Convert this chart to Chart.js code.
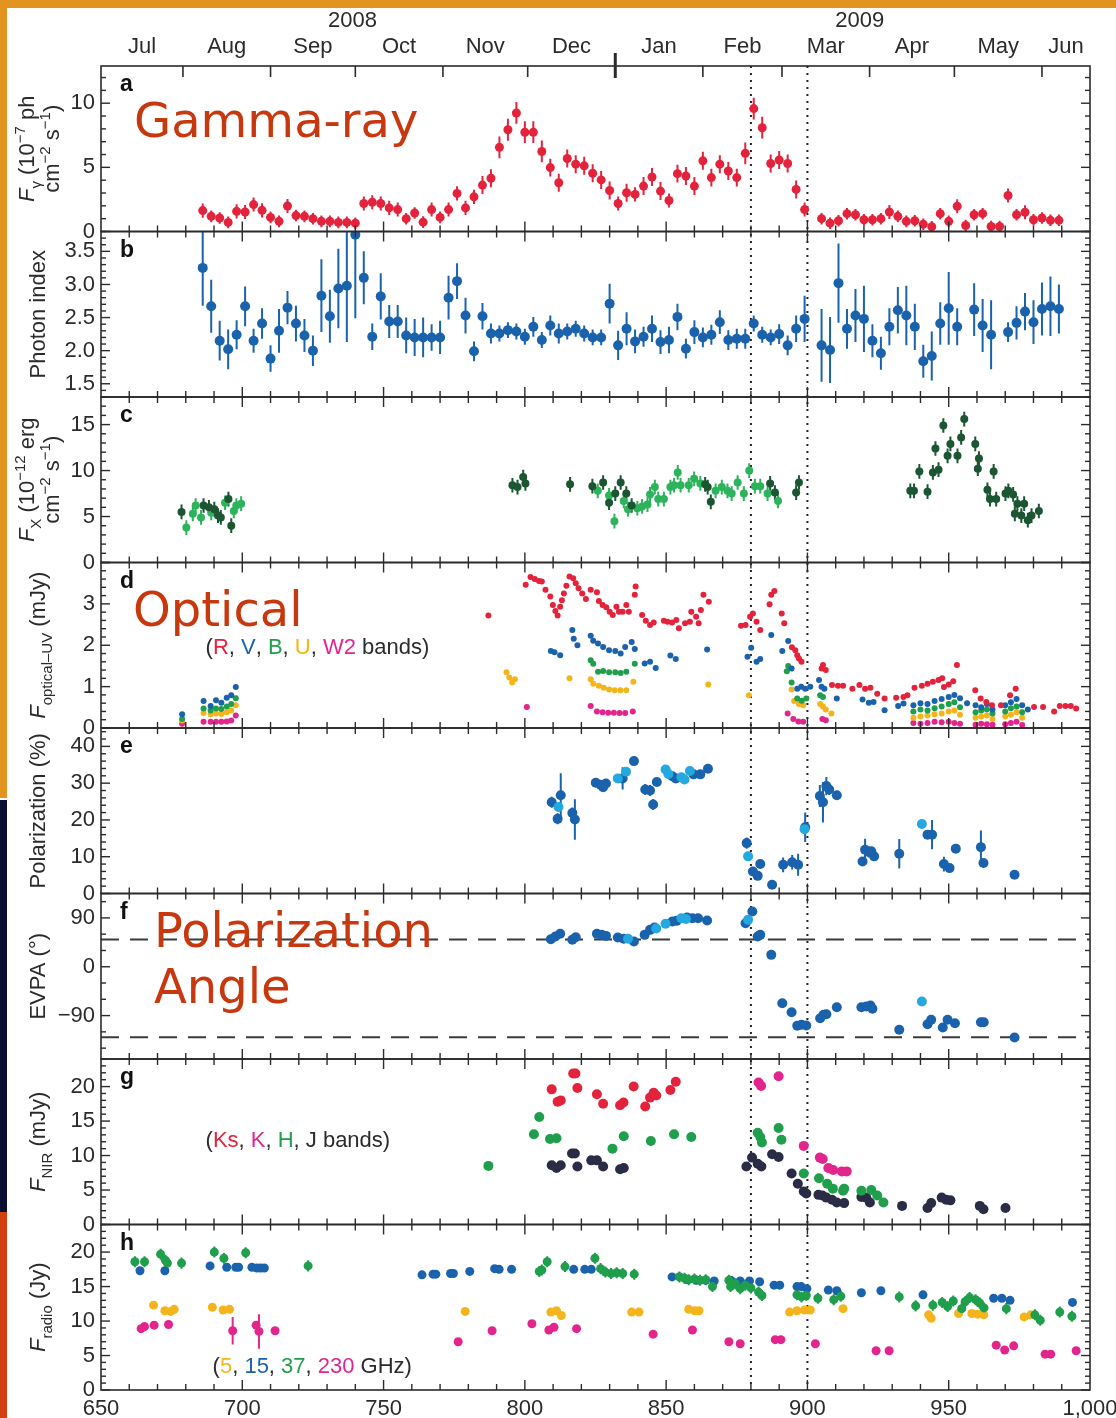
<!DOCTYPE html>
<html>
<head>
<meta charset="utf-8">
<title>3C 279 multiwavelength light curves</title>
<script src="https://cdn.jsdelivr.net/npm/chart.js@4.4.1/dist/chart.umd.min.js"></script>
<style>
  html, body { margin: 0; padding: 0; background: #fff; }
  #wrap { position: relative; width: 1116px; height: 1418px; overflow: hidden; background: #fff; }
  .band { position: absolute; }
  #lc { position: absolute; left: 0; top: 0; }
</style>
</head>
<body>
<div id="wrap">
  <div class="band" style="left:0;top:0;width:1116px;height:8px;background:#e3931f"></div>
  <div class="band" style="left:0;top:0;width:7px;height:798px;background:#e3931f"></div>
  <div class="band" style="left:0;top:800px;width:7px;height:412px;background:#0c0d33"></div>
  <div class="band" style="left:0;top:1212px;width:7px;height:206px;background:#d3400f"></div>
  <canvas id="lc" width="1116" height="1418"></canvas>
</div>
<script>
// ---- calendar axis (days are MJD - 54000) ----
const monthStarts = [679, 710, 740, 771, 801, 832, 863, 891, 922, 952, 983];
const monthNames = ['Jul', 'Aug', 'Sep', 'Oct', 'Nov', 'Dec', 'Jan', 'Feb', 'Mar', 'Apr', 'May', 'Jun'];
const yearNames = ['2008', '2009'];
const yearDays = [739, 918.5];
const newYearDay = 832;
const dayTicks = [650, 700, 750, 800, 850, 900, 950, 1000];
const flareDays = [880, 900];
const evpaRef = [50, -130];

// ---- a: gamma-ray flux (1e-7 ph cm-2 s-1), 3-day bins ----
const gammaX = [686,689,692,695,698,701,704,707,710,713,716,719,722,725,728,731,734,737,740,743,746,749,752,755,758,761,764,767,770,773,776,779,782,785,788,791,794,797,800,803,806,809,812,815,818,821,824,827,830,833,836,839,842,845,848,851,854,857,860,863,866,869,872,875,878,881,884,887,890,893,896,899,905,908,911,914,917,920,923,926,929,932,935,938,941,944,947,950,953,956,959,962,965,968,971,974,977,980,983,986,989];
const gammaY = [1.63,1.18,1.05,0.71,1.57,1.52,2.10,1.65,1.10,0.79, 1.99,1.24,1.18,1.00,0.79,0.79,0.71,0.71,0.65,2.18, 2.28,2.18,1.84,1.71,1.00,1.44,0.73,1.71,1.10,1.71, 2.97,1.84,2.70,3.62,4.15,6.56,7.93,9.24,7.74,7.74, 6.24,4.98,3.80,5.69,5.25,5.12,4.54,4.02,3.20,2.18, 3.02,2.89,3.54,4.25,3.15,2.42,4.51,4.33,3.54,5.51, 4.20,5.25,4.72,4.20,6.09,9.58,8.09,5.30,5.57,5.30, 3.28,1.71, 1.00,0.65,0.84,1.39,1.31,0.92,0.92,1.00,1.52,1.18, 0.79,0.84,0.57,0.37,1.39,0.79,1.97,0.47,1.31,1.39, 0.39,0.39,2.81,1.31,1.50,0.92,1.05,0.87,0.87];
const gammaErr = [0.55,0.45,0.45,0.45,0.55,0.55,0.55,0.55,0.45,0.45, 0.55,0.45,0.45,0.45,0.45,0.45,0.45,0.45,0.45,0.55, 0.55,0.55,0.55,0.55,0.45,0.45,0.45,0.55,0.45,0.55, 0.55,0.55,0.55,0.7,0.7,0.85,0.85,0.85,0.85,0.85, 0.85,0.7,0.7,0.7,0.7,0.7,0.7,0.7,0.7,0.55, 0.7,0.55,0.7,0.7,0.7,0.55,0.7,0.7,0.7,0.7, 0.7,0.7,0.7,0.7,0.85,0.85,0.85,0.7,0.7,0.7, 0.7,0.55, 0.45,0.45,0.45,0.45,0.45,0.45,0.45,0.45,0.55,0.45, 0.45,0.45,0.45,0.45,0.45,0.45,0.55,0.45,0.45,0.45, 0.45,0.45,0.55,0.45,0.55,0.45,0.45,0.45,0.45];

// ---- b: gamma-ray photon index ----
const photonX = [686,689,692,695,698,701,704,707,710,713,716,719,722,725,728,731,734,737,740,743,746,749,752,755,758,761,764,767,770,773,776,779,782,785,788,791,794,797,800,803,806,809,812,815,818,821,824,827,830,833,836,839,842,845,848,851,854,857,860,863,866,869,872,875,878,881,884,887,890,893,896,899,905,908,911,914,917,920,923,926,929,932,935,938,941,944,947,950,953,959,962,965,971,974,977,980,983,986,989];
const photonY = [3.25,2.67,2.15,2.02,2.24,2.67,2.15,2.41,1.88,2.30, 2.65,2.41,2.23,2.00,2.83,2.52,2.94,2.98,3.75,3.10, 2.21,2.82,2.44,2.44,2.23,2.20,2.20,2.20,2.20,2.80, 3.05,2.53,1.99,2.52,2.26,2.26,2.31,2.29,2.21,2.36, 2.16,2.38,2.26,2.29,2.33,2.26,2.20,2.20,2.71,2.08, 2.33,2.14,2.21,2.33,2.13,2.16,2.51,2.03,2.28,2.20, 2.24,2.43,2.16,2.18,2.18,2.41,2.24,2.20,2.25,2.08, 2.33,2.48, 2.08,2.01,3.02,2.33,2.53,2.48,2.15,1.96,2.36,2.61, 2.53,2.36,1.84,1.92,2.41,2.64,2.36,2.62,2.38,2.24, 2.28,2.42,2.59,2.43,2.63,2.67,2.63];
const photonErr = [0.57,0.40,0.30,0.30,0.22,0.30,0.18,0.23,0.20,0.33, 0.25,0.27,0.25,0.23,0.55,0.40,0.60,0.85,1.26,0.40, 0.20,0.35,0.25,0.25,0.27,0.28,0.30,0.20,0.25,0.33, 0.27,0.27,0.15,0.20,0.15,0.12,0.12,0.12,0.12,0.15, 0.12,0.15,0.15,0.12,0.12,0.12,0.12,0.12,0.30,0.22, 0.25,0.18,0.15,0.20,0.18,0.20,0.20,0.15,0.18,0.15, 0.15,0.18,0.15,0.15,0.15,0.12,0.12,0.12,0.15,0.15, 0.20,0.35, 0.55,0.50,0.60,0.30,0.40,0.50,0.25,0.25,0.28,0.35, 0.45,0.35,0.25,0.37,0.32,0.55,0.28,0.40,0.40,0.52, 0.15,0.25,0.28,0.33,0.40,0.45,0.37];

// ---- c: X-ray flux (1e-12 erg cm-2 s-1), two instruments ----
const xrayDarkX = [678.5,686.3,688.2,690.1,691.4,692.4,695.1,696.1,795.6,797.4,799.4,800.2,816.0,823.9,827.7,829.8,832.0,833.9,835.9,837.8,863.8,864.7,865.8,886.8,888.5,896.0,897.0,936.4,937.7,939.6,942.5,944.4,945.3,946.4,948.1,949.6,950.6,953.1,954.4,955.5,959.4,960.3,960.7,963.7,964.6,965.9,966.8,970.1,971.1,972.8,973.4,974.3,975.7,976.7,978.0,979.3,981.9];
const xrayDarkY = [5.5,6.2,6.0,5.8,5.1,4.9,6.9,4.0,8.4,8.2,9.3,8.6,8.5,8.3,8.7,6.5,7.5,8.7,7.5,6.2,8.5,8.2,6.6,8.6,7.6,7.6,8.7,7.8,7.8,9.9,7.7,9.8,12.4,10.1,14.9,11.6,12.9,11.6,13.6,15.6,12.9,10.2,11.3,7.9,6.9,9.9,6.9,7.5,7.8,7.4,5.3,6.4,5.1,6.4,4.6,5.1,5.6];
const xrayLightX = [680.2,682.5,683.5,685.4,689.0,693.9,697.0,697.9,699.6,825.8,829.8,831.7,835.0,836.5,839.8,841.5,843.4,844.3,846.0,847.2,849.2,851.5,852.8,854.1,855.1,858.0,859.9,862.1,867.5,869.7,871.7,873.2,875.3,877.5,879.4,881.4,883.3,885.9,889.6];
const xrayLightY = [3.8,5.3,6.2,4.9,5.4,6.5,5.6,6.2,6.4,7.8,7.3,4.5,6.7,5.8,5.9,6.1,6.3,7.4,8.2,6.9,6.9,8.2,8.4,9.8,8.4,8.4,9.1,8.6,7.8,8.2,7.8,7.5,8.7,7.5,10.0,8.3,8.3,7.5,6.7];
const xrayErr = 0.8;

// ---- d: optical-UV flux density (mJy) ----
const optRX = [787.1,800.3,802.0,803.5,805.0,806.0,807.3,809.0,809.9,810.8,811.6,812.5,813.1,813.8,814.7,815.8,817.1,818.0,819.0,820.3,821.6,823.3,825.5,826.2,827.5,828.8,830.0,831.1,832.4,833.3,834.6,835.9,836.8,838.9,839.2,841.5,842.8,844.3,845.6,849.2,850.5,852.1,853.6,854.5,856.7,858.4,858.9,860.6,861.5,862.3,863.2,865.1,876.5,878.1,879.7,880.7,882.0,883.3,886.6,887.2,888.3,890.9,891.8,894.5,895.7,896.4,897.0,897.9,905.0,905.5,906.5,908.7,910.8,912.6,915.9,918.4,920.4,922.3,924.7,927.3,931.4,934.0,935.4,937.9,940.5,942.5,944.4,946.4,947.7,948.3,950.0,951.6,952.9,959.4,961.3,963.3,965.3,968.5,971.7,973.7,980.2,983.4,987.3,989.3,991.3,993.2,995.1];
const optRY = [2.72,3.46,3.65,3.60,3.55,3.54,3.34,3.18,2.97,2.83, 2.72,2.93,3.09,3.25,3.44,3.66,3.62,3.50,3.38,3.25, 3.12,3.34,3.28,3.07,2.97,2.92,2.81,2.73,2.93,2.81, 2.81,2.97,2.81,3.22,3.42,2.73,2.59,2.49,2.55,2.59, 2.57,2.55,2.61,2.41,2.53,2.57,2.81,2.69,2.53,2.85, 3.22,3.05,2.47,2.49,2.69,2.77,2.57,2.37,2.99,3.22, 3.31,2.77,2.53,1.95,1.88,1.76,1.68,1.60,1.44,1.52, 1.40,1.04,1.02,1.02,0.95,1.04,0.95,0.97,0.83,0.71, 0.73,0.75,0.79,0.97,1.02,1.07,1.12,1.16,1.20,0.99, 1.05,1.13,1.52,0.91,0.71,0.63,0.55,0.55,0.79,0.95, 0.51,0.51,0.40,0.53,0.53,0.53,0.47];
const optVX = [678.7,686.3,688.8,690.7,692.6,694.5,696.1,697.7,809.2,810.5,812.5,816.8,817.3,818.6,823.3,824.2,825.9,827.7,829.8,832.0,833.9,835.5,837.8,838.9,842.4,844.3,846.3,851.5,853.4,864.5,878.8,880.1,882.0,883.3,887.2,891.1,893.2,894.4,896.4,897.8,899.2,901.0,904.1,905.0,906.0,910.4,919.5,921.7,923.4,927.3,932.1,934.0,937.5,940.0,942.5,945.0,947.5,950.0,952.0,954.0,956.5,959.5,961.5,963.5,965.5,970.0,972.0,974.0,976.0,978.0];
const optVY = [0.33,0.65,0.53,0.67,0.61,0.73,0.79,0.99,1.86,1.83, 1.76,2.37,2.16,2.00,2.23,2.11,2.04,1.96,1.88,1.86, 1.80,1.96,2.08,1.91,1.56,1.60,1.45,1.75,1.67,1.90, 1.72,1.94,1.60,1.67,2.25,1.86,2.10,1.44,0.95,1.00, 0.95,1.00,1.16,1.00,0.95,0.71,0.69,0.61,0.63,0.43, 0.53,0.59,0.55,0.60,0.58,0.65,0.70,0.75,0.80,0.72, 0.60,0.55,0.50,0.58,0.45,0.55,0.62,0.70,0.55,0.45];
const optBX = [678.7,686.3,688.8,690.7,692.6,694.5,696.1,697.7,823.3,824.2,825.9,827.7,829.8,832.0,833.9,835.9,838.9,892.7,893.2,894.4,896.4,898.0,899.6,904.5,905.5,937.5,940.0,942.5,945.0,947.5,950.0,952.0,954.0,959.5,961.5,963.5,965.5,970.0,972.0,974.0,976.0];
const optBY = [0.22,0.47,0.42,0.47,0.46,0.52,0.58,0.72,1.64,1.55,1.36,1.38,1.35,1.35,1.33,1.36,1.55,1.37,1.50,1.10,0.71,0.66,0.71,0.79,0.75,0.40,0.45,0.42,0.48,0.52,0.58,0.62,0.50,0.38,0.42,0.45,0.35,0.40,0.48,0.52,0.38];
const optUX = [678.7,686.3,688.8,690.7,692.6,694.5,696.1,697.7,793.5,794.5,795.5,796.5,815.8,823.3,824.2,826.2,827.9,829.8,831.8,833.8,835.9,838.4,864.9,879.3,894.4,895.3,897.0,898.5,904.5,905.5,906.5,908.5,937.5,940.0,942.5,945.0,947.5,950.0,952.0,954.0,959.5,961.5,963.5,965.5,970.0,972.0,974.0,976.0];
const optUY = [0.18,0.36,0.33,0.35,0.34,0.38,0.42,0.55,1.35,1.22,1.10,1.18,1.20,1.18,1.07,1.02,0.97,0.93,0.91,0.91,0.91,1.12,1.05,0.79,0.93,0.65,0.58,0.55,0.58,0.52,0.45,0.35,0.25,0.28,0.30,0.33,0.35,0.40,0.42,0.32,0.25,0.28,0.30,0.22,0.28,0.32,0.38,0.25];
const optW2X = [678.7,686.3,688.8,690.7,692.6,694.5,696.1,697.7,800.7,823.3,825.5,827.5,829.5,831.5,833.5,835.5,838.2,893.0,895.0,896.8,898.5,905.3,906.5,937.5,940.0,942.5,945.0,947.5,950.0,952.0,954.0,959.5,961.5,963.5,965.5,970.0,972.0,974.0,976.0];
const optW2Y = [0.10,0.15,0.15,0.15,0.15,0.16,0.18,0.30,0.51,0.53,0.40,0.38,0.37,0.37,0.36,0.36,0.40,0.35,0.22,0.16,0.15,0.22,0.19,0.12,0.10,0.12,0.15,0.14,0.15,0.12,0.10,0.08,0.10,0.09,0.08,0.09,0.12,0.15,0.07];

// ---- e: optical polarization degree (%) ----
const polDarkX = [809.5,811.6,812.7,816.8,817.7,825.1,826.8,827.7,828.7,834.6,838.6,842.6,844.3,845.4,846.7,852.2,853.4,859.7,862.1,864.8,878.5,880.7,882.4,883.3,887.5,891.4,894.6,896.7,899.2,904.4,905.5,906.7,907.7,910.4,919.5,920.4,921.7,922.6,923.6,932.5,942.5,944.1,948.3,950.3,952.5,961.4,962.3,973.3];
const polDarkY = [24.8,20.3,26.7,21.9,20.1,30.1,29.6,28.9,29.9,31.3,36.0,28.3,28.0,24.2,30.3,31.9,31.3,32.4,32.4,33.9,13.7,6.0,4.8,8.0,2.4,7.8,8.5,7.8,18.0,26.5,24.8,29.2,28.3,26.7,8.7,11.9,11.3,11.5,10.1,10.8,16.0,16.0,8.0,6.9,12.2,12.6,8.3,5.1];
const polDarkErr = [1.5,1.5,6.0,1.5,5.5,1.0,1.0,1.0,1.0,3.0, 1.0,1.5,1.5,1.5,1.0,1.0,1.0,1.0,1.0,1.0, 1.5,1.0,1.0,1.0,1.0,2.0,2.0,3.0,4.0,3.0, 5.5,2.5,1.5,1.0,1.0,3.0,1.5,1.0,1.0,4.0, 1.0,4.0,2.0,1.0,1.0,4.5,1.0,1.0];
const polLightX = [811.9,832.9,835.8,849.8,850.8,855.4,856.5,858.4,879.0,899.0,940.5];
const polLightY = [23.5,31.3,33.1,33.7,32.5,31.6,31.0,33.3,10.1,17.5,18.9];

// ---- f: polarization angle (deg) ----
const evpaDarkX = [809.2,810.8,812.5,816.8,818.0,825.5,827.2,828.7,832.9,835.0,838.6,842.4,844.3,845.9,852.2,853.7,857.4,859.3,861.3,864.5,878.1,880.5,882.4,883.3,887.2,891.1,894.4,896.4,897.9,899.6,904.5,905.7,906.7,910.4,919.1,920.8,922.3,923.0,932.5,942.5,943.8,947.9,949.6,952.2,961.4,962.4,973.3];
const evpaDarkY = [50.8,55.7,60.7,49.7,54.5,60.7,58.8,56.9,53.9,51.5,46.5,58.8,68.0,72.3,83.4,84.6,90.8,89.5,89.5,85.2,80.3,101.8,55.7,58.8,21.9,-67.2,-83.9,-108.8,-107.0,-108.3,-94.8,-88.6,-87.4,-74.5,-74.5,-73.2,-71.4,-77.5,-116.2,-105.9,-97.8,-112.0,-97.8,-104.0,-102.2,-102.2,-130.4];
const evpaLightX = [836.5,846.5,849.8,855.4,857.0,879.0,940.5];
const evpaLightY = [51.5,70.5,79.1,89.5,88.0,86.4,-64.0];
const evpaErr = 4;

// ---- g: near-infrared flux density (mJy) ----
const nirKsX = [809.5,811.6,812.7,817.1,817.9,818.6,825.5,827.7,833.7,834.9,838.5,842.6,844.3,845.6,846.5,851.5,853.4];
const nirKsY = [19.6,17.8,18.0,21.9,21.9,19.8,18.9,17.5,17.3,17.7,20.0,17.1,18.4,19.1,18.7,19.5,20.7];
const nirKX = [882.7,883.6,889.8,898.7,904.4,905.4,907.4,909.1,912.2,913.9];
const nirKY = [20.6,20.1,21.5,11.4,9.7,9.5,8.2,7.9,7.7,7.7];
const nirHX = [787.1,803.2,805.1,808.9,811.2,831.0,835.0,844.6,852.8,858.9,882.4,883.3,883.9,889.8,890.8,898.7,904.1,907.0,909.0,912.6,913.0,919.1,922.6,924.7,926.9];
const nirHY = [8.5,13.1,15.6,12.4,12.5,11.0,12.8,12.1,13.1,12.7,13.3,12.7,11.9,14.0,12.3,7.4,6.7,5.9,5.2,4.9,5.2,4.9,5.0,4.2,3.2];
const nirJX = [809.5,811.2,812.7,816.7,817.7,818.6,823.5,825.5,827.7,833.7,835.0,878.4,880.4,882.4,883.7,887.5,889.8,894.4,896.6,898.7,899.6,903.9,905.3,906.7,908.7,910.4,913.0,919.1,920.8,922.1,933.5,942.5,943.8,947.5,949.1,950.6,961.0,962.3,970.1];
const nirJY = [8.6,8.2,8.6,10.3,10.3,8.4,9.3,9.3,8.4,8.0,8.2,8.4,9.7,8.8,8.4,10.2,9.8,7.4,5.9,4.8,4.5,4.3,4.2,3.9,3.6,3.2,3.1,4.0,3.9,3.2,2.7,2.4,3.1,3.9,3.6,3.5,2.7,2.2,2.4];

// ---- h: radio flux density (Jy) ----
const radio5X = [668.6,672.6,674.7,675.9,689.4,693.2,695.5,778.9,809.2,811.2,812.9,837.8,840.4,858.0,860.1,861.6,893.7,896.3,899.0,901.0,912.6,942.9,943.8,953.5,958.2,960.3,962.4,976.7,979.0];
const radio5Y = [12.3,11.5,11.4,11.7,12.0,11.6,11.7,11.4,11.3,11.5,10.8,11.3,11.3,11.7,11.5,11.5,11.3,11.5,11.6,11.6,11.8,10.9,10.4,11.1,11.1,11.0,10.9,10.6,10.9];
const radio15X = [663.8,672.6,688.6,694.5,697.7,698.7,703.4,705.2,706.5,707.8,763.6,767.5,768.5,773.7,774.7,780.5,789.3,790.9,795.3,817.3,821.2,823.5,852.1,854.7,857.4,860.8,864.0,867.0,872.9,876.2,879.5,883.1,888.2,890.2,896.3,897.8,899.8,907.4,910.4,919.1,926.0,940.9,965.9,968.8,971.7,993.8];
const radio15Y = [17.3,17.3,18.0,17.8,17.8,17.8,17.8,17.7,17.7,17.7,16.7,16.8,16.8,16.9,16.9,17.2,17.6,17.5,17.5,17.5,17.5,17.5,16.4,16.4,16.0,15.9,15.9,15.8,15.9,15.8,15.8,15.7,15.2,15.2,15.0,15.0,14.7,14.5,14.4,14.1,14.4,13.8,13.3,13.3,13.0,12.7];
const radio37X = [662.0,665.4,671.1,672.8,673.5,678.5,690.1,693.5,701.2,723.3,805.1,806.0,807.9,814.2,824.8,826.8,828.5,830.5,832.5,834.6,838.7,854.7,856.5,858.0,860.0,862.0,864.0,866.4,872.2,872.8,874.5,876.2,878.0,880.0,882.7,883.9,896.3,897.9,899.6,903.7,909.3,911.8,932.5,938.3,944.4,947.7,949.6,951.6,954.6,955.8,957.4,959.5,961.0,962.5,970.4,980.5,982.4,989.3,993.6];
const radio37Y = [18.6,18.6,19.7,18.8,18.4,18.4,20.0,19.1,19.9,18.0,17.2,17.4,18.6,17.9,19.1,17.6,17.1,16.9,17.0,16.9,16.8,16.4,16.2,16.0,16.1,15.9,16.0,15.0,15.9,15.0,15.4,14.7,15.2,14.8,14.2,13.7,13.8,13.5,13.7,13.3,13.1,13.6,13.5,12.2,12.3,12.7,12.1,12.9,11.8,12.8,13.4,13.1,12.6,11.9,11.8,10.9,10.1,11.3,10.7];
const radio37Err = 0.8;
const radio230X = [664.2,665.4,668.8,673.9,696.6,704.9,705.9,711.6,776.4,788.4,802.5,808.5,810.3,818.3,845.4,859.3,872.2,876.2,888.6,890.6,902.8,924.3,928.9,966.8,969.8,973.0,984.1,986.1,995.1];
const radio230Y = [8.9,9.2,9.4,9.5,8.6,9.4,8.5,8.6,7.0,8.6,9.6,8.7,9.1,8.9,8.1,8.7,7.0,6.7,7.3,7.3,6.7,5.7,5.7,6.5,5.8,6.4,5.2,5.2,5.7];
const radio230Err = [0.4,0.4,0.4,0.4,2.0,0.4,2.5,0.4,0.4,0.4,0.4,0.4,0.4,0.4,0.4,0.4,0.4,0.4,0.4,0.4,0.4,0.4,0.4,0.4,0.4,0.4,0.4,0.4,0.4];

// ---- styling ----
const ink = '#2b2b2b';
const sans = '"Liberation Sans", Arial, Helvetica, sans-serif';
const noteFont = '"DejaVu Sans", Verdana, sans-serif';
const noteColor = '#c8380e';
const C = {
  red: '#e3233b', blue: '#1b62ad', sky: '#25a7e0', green: '#1f9e4b', dkgreen: '#1b5532',
  ltgreen: '#2cb35b', gold: '#f3b51b', pink: '#e2258d', navy: '#2a2c45'
};

const panels = [
  { id: 'ya', letter: 'a', min: 0, max: 12.9, step: 5, minor: 1, digits: 0 },
  { id: 'yb', letter: 'b', min: 1.3, max: 3.8, step: 0.5, minor: 0.1, digits: 1 },
  { id: 'yc', letter: 'c', min: 0, max: 18, step: 5, minor: 1, digits: 0 },
  { id: 'yd', letter: 'd', min: 0, max: 4, step: 1, minor: 0.2, digits: 0 },
  { id: 'ye', letter: 'e', min: 0, max: 45, step: 10, minor: 2, digits: 0 },
  { id: 'yf', letter: 'f', min: -170, max: 135, step: 90, minor: 30, digits: 0 },
  { id: 'yg', letter: 'g', min: 0, max: 24, step: 5, minor: 1, digits: 0 },
  { id: 'yh', letter: 'h', min: 0, max: 24, step: 5, minor: 1, digits: 0 }
];

// y titles as runs of text; sub/sup are drawn smaller and shifted
const supM = (t) => ({ t, sup: 1 });
const subM = (t) => ({ t, sub: 1 });
const yTitles = {
  ya: [[{ t: 'F', it: 1 }, subM('γ'), { t: ' (10' }, supM('−7'), { t: ' ph' }], [{ t: 'cm' }, supM('−2'), { t: ' s' }, supM('−1'), { t: ')' }]],
  yb: [[{ t: 'Photon index' }]],
  yc: [[{ t: 'F', it: 1 }, subM('X'), { t: ' (10' }, supM('−12'), { t: ' erg' }], [{ t: 'cm' }, supM('−2'), { t: ' s' }, supM('−1'), { t: ')' }]],
  yd: [[{ t: 'F', it: 1 }, subM('optical–UV'), { t: ' (mJy)' }]],
  ye: [[{ t: 'Polarization (%)' }]],
  yf: [[{ t: 'EVPA (°)' }]],
  yg: [[{ t: 'F', it: 1 }, subM('NIR'), { t: ' (mJy)' }]],
  yh: [[{ t: 'F', it: 1 }, subM('radio'), { t: ' (Jy)' }]]
};

const legends = [
  { axis: 'yd', day: 687, val: 1.78, runs: [{ t: '(' }, { t: 'R', c: C.red }, { t: ', ' }, { t: 'V', c: C.blue }, { t: ', ' }, { t: 'B', c: C.green }, { t: ', ' }, { t: 'U', c: C.gold }, { t: ', ' }, { t: 'W2', c: C.pink }, { t: ' bands)' }] },
  { axis: 'yg', day: 687, val: 11.3, runs: [{ t: '(' }, { t: 'Ks', c: C.red }, { t: ', ' }, { t: 'K', c: C.pink }, { t: ', ' }, { t: 'H', c: C.green }, { t: ', J bands)' }] },
  { axis: 'yh', day: 689.5, val: 2.5, runs: [{ t: '(' }, { t: '5', c: C.gold }, { t: ', ' }, { t: '15', c: C.blue }, { t: ', ' }, { t: '37', c: C.green }, { t: ', ' }, { t: '230', c: C.pink }, { t: ' GHz)' }] }
];

const notes = [
  { text: 'Gamma-ray', x: 134, y: 137 },
  { text: 'Optical', x: 133, y: 626 },
  { text: 'Polarization', x: 154, y: 947 },
  { text: 'Angle', x: 154, y: 1003 }
];

function seg(ctx, x1, y1, x2, y2) {
  ctx.beginPath(); ctx.moveTo(x1, y1); ctx.lineTo(x2, y2); ctx.stroke();
}

function runFont(r, size) {
  const s = (r.sub || r.sup) ? Math.round(size * 0.68) : size;
  return (r.it ? 'italic ' : '') + s + 'px ' + sans;
}

function runsWidth(ctx, runs, size) {
  let w = 0;
  runs.forEach(r => { ctx.font = runFont(r, size); w += ctx.measureText(r.t).width; });
  return w;
}

function drawRuns(ctx, runs, x, y, size) {
  let cx = x;
  ctx.textBaseline = 'alphabetic';
  ctx.textAlign = 'left';
  runs.forEach(r => {
    ctx.font = runFont(r, size);
    const dy = r.sub ? size * 0.3 : r.sup ? -size * 0.42 : 0;
    ctx.fillStyle = r.c || ink;
    ctx.fillText(r.t, cx, y + dy);
    cx += ctx.measureText(r.t).width;
  });
}

function majorValues(p) {
  const out = [];
  for (let k = Math.ceil(p.min / p.step - 1e-9); k * p.step < p.max - 1e-9; k++) out.push(+(k * p.step).toFixed(6));
  return out;
}

function pts(xs, ys) { return xs.map((x, i) => ({ x, y: ys[i] })); }

function series(axis, xs, ys, color, r, errs) {
  return {
    type: 'scatter', xAxisID: 'x', yAxisID: axis, data: pts(xs, ys),
    backgroundColor: color, borderColor: color, borderWidth: 0,
    pointRadius: r, pointHoverRadius: r, errs: errs
  };
}

const datasets = [
  series('ya', gammaX, gammaY, C.red, 4.5, gammaErr),
  series('yb', photonX, photonY, C.blue, 5, photonErr),
  series('yc', xrayDarkX, xrayDarkY, C.dkgreen, 4, xrayErr),
  series('yc', xrayLightX, xrayLightY, C.ltgreen, 4, xrayErr),
  series('yd', optRX, optRY, C.red, 3),
  series('yd', optVX, optVY, C.blue, 3),
  series('yd', optBX, optBY, C.green, 3),
  series('yd', optUX, optUY, C.gold, 3),
  series('yd', optW2X, optW2Y, C.pink, 3),
  series('ye', polLightX, polLightY, C.sky, 5),
  series('ye', polDarkX, polDarkY, C.blue, 5, polDarkErr),
  series('yf', evpaLightX, evpaLightY, C.sky, 5),
  series('yf', evpaDarkX, evpaDarkY, C.blue, 5, evpaErr),
  series('yg', nirKsX, nirKsY, C.red, 5),
  series('yg', nirKX, nirKY, C.pink, 5),
  series('yg', nirHX, nirHY, C.green, 5),
  series('yg', nirJX, nirJY, C.navy, 5),
  series('yh', radio37X, radio37Y, C.green, 4.5, radio37Err),
  series('yh', radio15X, radio15Y, C.blue, 4.5),
  series('yh', radio5X, radio5Y, C.gold, 4.5),
  series('yh', radio230X, radio230Y, C.pink, 4.5, radio230Err)
];

// month label positions sit halfway between month boundaries
const monthEdges = [650].concat(monthStarts, [1000]);
const monthMid = monthNames.map((m, i) => (monthEdges[i] + monthEdges[i + 1]) / 2);

const scales = {
  x: {
    type: 'linear', position: 'bottom', min: 650, max: 1000,
    grid: { display: false, drawTicks: false }, border: { display: false },
    afterBuildTicks: s => { s.ticks = dayTicks.map(v => ({ value: v })); },
    ticks: { color: ink, font: { size: 22 }, padding: 6, autoSkip: false, maxRotation: 0,
      callback: v => v.toLocaleString('en-US') },
    afterFit: s => { s.height = 28; s.paddingLeft = 0; s.paddingRight = 0; }
  },
  x2: {
    type: 'linear', position: 'top', min: 650, max: 1000,
    grid: { display: false, drawTicks: false }, border: { display: false },
    afterBuildTicks: s => { s.ticks = monthMid.map(v => ({ value: v })); },
    ticks: { color: ink, font: { size: 22 }, padding: 6, autoSkip: false, maxRotation: 0,
      callback: (v, i) => monthNames[i] },
    afterFit: s => { s.height = 66; s.paddingLeft = 0; s.paddingRight = 0; }
  }
};

panels.forEach((p, i) => {
  scales[p.id] = {
    type: 'linear', position: 'left', stack: 'panels', stackWeight: 1, weight: panels.length - i,
    min: p.min, max: p.max,
    grid: { display: false, drawTicks: false }, border: { display: false },
    afterBuildTicks: s => { s.ticks = majorValues(p).map(v => ({ value: v })); },
    ticks: { color: ink, font: { size: 22 }, padding: 6, autoSkip: false,
      callback: v => Number(v).toFixed(p.digits).replace('-', '\u2212') },
    afterFit: s => { s.width = 101; }
  };
});

const decorations = {
  id: 'decorations',
  beforeDatasetsDraw(chart) {
    const ctx = chart.ctx;
    const xs = chart.scales.x;
    const area = chart.chartArea;
    ctx.save();
    // EVPA reference levels
    const f = chart.scales.yf;
    ctx.strokeStyle = '#3a3a3a';
    ctx.lineWidth = 2;
    ctx.setLineDash([18, 11]);
    evpaRef.forEach(v => { const y = f.getPixelForValue(v); seg(ctx, xs.left, y, xs.right, y); });
    // dotted flare markers through all panels
    ctx.setLineDash([2, 5]);
    ctx.strokeStyle = '#222';
    flareDays.forEach(d => { const x = xs.getPixelForValue(d); seg(ctx, x, area.top, x, area.bottom); });
    ctx.setLineDash([]);
    // vertical error bars, clipped to their own panel
    chart.data.datasets.forEach(ds => {
      if (ds.errs === undefined) return;
      const ys = chart.scales[ds.yAxisID];
      ctx.save();
      ctx.beginPath();
      ctx.rect(xs.left, ys.top, xs.right - xs.left, ys.bottom - ys.top);
      ctx.clip();
      ctx.strokeStyle = ds.borderColor;
      ctx.lineWidth = 2;
      ds.data.forEach((p, i) => {
        const e = Array.isArray(ds.errs) ? ds.errs[i] : ds.errs;
        const x = xs.getPixelForValue(p.x);
        seg(ctx, x, ys.getPixelForValue(p.y - e), x, ys.getPixelForValue(p.y + e));
      });
      ctx.restore();
    });
    ctx.restore();
  },
  afterDatasetsDraw(chart) {
    const ctx = chart.ctx;
    const xs = chart.scales.x;
    const L = xs.left, R = xs.right;
    ctx.save();
    ctx.strokeStyle = ink;
    ctx.fillStyle = ink;

    panels.forEach((p, pi) => {
      const s = chart.scales[p.id];
      const top = s.top, bot = s.bottom;
      ctx.lineWidth = 1.6;
      ctx.strokeRect(L, top, R - L, bot - top);
      // y ticks, inward on both sides
      ctx.lineWidth = 1.4;
      for (let k = Math.ceil(p.min / p.minor - 1e-9); k * p.minor <= p.max + 1e-9; k++) {
        const v = k * p.minor;
        const q = v / p.step;
        const major = Math.abs(q - Math.round(q)) < 1e-6;
        const y = s.getPixelForValue(v);
        const len = major ? 9 : 5;
        seg(ctx, L, y, L + len, y);
        seg(ctx, R, y, R - len, y);
      }
      // day ticks on bottom and top edges
      for (let d = 660; d < 1000; d += 10) {
        const x = xs.getPixelForValue(d);
        const len = d % 50 === 0 ? 10 : 6;
        seg(ctx, x, bot, x, bot - len);
        if (pi > 0) seg(ctx, x, top, x, top + len);
      }
      // panel letter
      ctx.font = 'bold 23px ' + sans;
      ctx.textAlign = 'left';
      ctx.textBaseline = 'alphabetic';
      ctx.fillStyle = '#111';
      ctx.fillText(p.letter, 120, top + 25);
      // y title, rotated
      const lines = yTitles[p.id];
      const bases = lines.length === 2 ? [34, 59] : [45];
      const cy = (top + bot) / 2;
      lines.forEach((runs, li) => {
        const w = runsWidth(ctx, runs, 22);
        ctx.save();
        ctx.translate(bases[li], cy);
        ctx.rotate(-Math.PI / 2);
        drawRuns(ctx, runs, -w / 2, 0, 22);
        ctx.restore();
      });
    });

    // calendar ticks on the upper frame
    const topY = chart.scales.ya.top;
    ctx.strokeStyle = ink;
    monthStarts.forEach(d => {
      const x = xs.getPixelForValue(d);
      if (d === newYearDay) {
        ctx.lineWidth = 3;
        seg(ctx, x, topY - 13, x, topY + 12);
      } else {
        ctx.lineWidth = 1.6;
        seg(ctx, x, topY, x, topY + 11);
      }
    });
    ctx.font = '22px ' + sans;
    ctx.fillStyle = ink;
    ctx.textAlign = 'center';
    ctx.textBaseline = 'alphabetic';
    yearNames.forEach((t, i) => ctx.fillText(t, xs.getPixelForValue(yearDays[i]), 27));

    // band keys inside panels
    legends.forEach(lg => {
      const s = chart.scales[lg.axis];
      drawRuns(ctx, lg.runs, xs.getPixelForValue(lg.day), s.getPixelForValue(lg.val), 22);
    });

    // large panel captions
    ctx.font = '48px ' + noteFont;
    ctx.fillStyle = noteColor;
    ctx.textAlign = 'left';
    notes.forEach(n => ctx.fillText(n.text, n.x, n.y));
    ctx.restore();
  }
};

Chart.defaults.font.family = sans;
Chart.defaults.color = ink;

new Chart(document.getElementById('lc'), {
  type: 'scatter',
  data: { datasets },
  options: {
    responsive: false,
    devicePixelRatio: 1,
    animation: false,
    events: [],
    layout: { padding: { left: 0, right: 26, top: 0, bottom: 0 } },
    plugins: { legend: { display: false }, tooltip: { enabled: false }, title: { display: false } },
    scales
  },
  plugins: [decorations]
});
</script>
</body>
</html>
